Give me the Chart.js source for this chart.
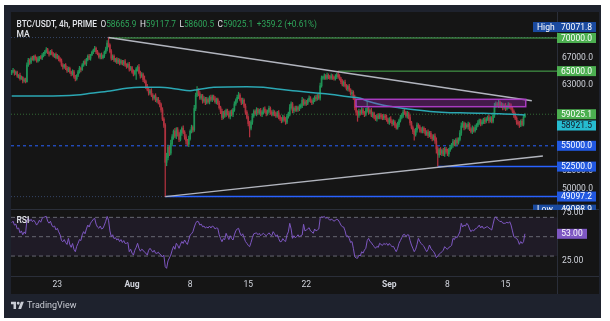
<!DOCTYPE html>
<html>
<head>
<meta charset="utf-8">
<script src="https://cdn.jsdelivr.net/npm/chart.js@4.4.1/dist/chart.umd.min.js"></script>
<style>
  html, body { margin: 0; padding: 0; background: #ffffff; }
  body { width: 610px; height: 321px; position: relative; overflow: hidden; font-family: Roboto, sans-serif; }
  #frame { position: absolute; left: 4px; top: 5px; width: 597px; height: 313px; background: #1e222d; }
  #panel { position: absolute; left: 11px; top: 12px; width: 588px; height: 282px; background: #151515; }
  .sep { position: absolute; background: #2a2e39; }
  canvas { position: absolute; }
  #main { left: 11px; top: 12px; }
  #rsi { left: 11px; top: 200px; }
  .t { position: absolute; font-size: 8.5px; line-height: 10px; white-space: nowrap; color: #e3e5ea; }
  #legend { position: absolute; left: 16.5px; top: 18.5px; display: flex; gap: 3.5px; font-size: 8.3px; line-height: 10px; white-space: nowrap; color: #e3e5ea; }
  .b { font-weight: 500; }
  .g { color: #2ea55a; }
  #brand { position: absolute; left: 11px; top: 300px; display: flex; align-items: center; gap: 3px; color: #c9ccd4; font-size: 9px; }
</style>
</head>
<body>
<div id="frame"></div>
<div id="panel"></div>
<div class="sep" style="left:11px;top:209px;width:588px;height:1px"></div>
<div class="sep" style="left:11px;top:276px;width:588px;height:1px"></div>
<div class="sep" style="left:557px;top:12px;width:1px;height:282px"></div>

<canvas id="main" width="588" height="198"></canvas>
<canvas id="rsi" width="588" height="94"></canvas>

<div id="legend">
  <span class="b">BTC/USDT, 4h, PRIME</span>
  <span>O<span class="g" id="vO"></span></span>
  <span>H<span class="g" id="vH"></span></span>
  <span>L<span class="g" id="vL"></span></span>
  <span>C<span class="g" id="vC"></span></span>
  <span class="g" id="vChg"></span>
</div>
<div class="t b" style="left:16.5px;top:28.5px">MA</div>
<div class="t b" style="left:16.5px;top:214.5px">RSI</div>

<div id="brand">
  <svg width="13" height="8" viewBox="0 0 36 22"><path d="M14 22H7V9H0V2h14v20zM28 22h-8l7.5-20h8L28 22zM20 2a4 4 0 1 1 0 8 4 4 0 0 1 0-8z" fill="#c9ccd4"/></svg>
  <span>TradingView</span>
</div>

<script>
// ── Datos (velas de 4h, precios en miles de USD) ─────────────
const firstOpen = 64.7;
const closes = [
  64.9, 65.1, 64.7, 64.8, 64.3, 64.4, 63.9, 64.1, 63.6, 63.8, 63.5, 65.9,
  66.6, 66.3, 66.9, 66.7, 67.2, 66.9, 66.5, 66.8, 67.1, 66.9, 67.3, 67.6,
  67.9, 68.2, 67.8, 67.5, 67.9, 67.6, 67.3, 67.5, 67.0, 67.2, 66.8, 66.5,
  65.9, 65.6, 65.9, 65.4, 65.1, 65.4, 64.9, 64.6, 64.9, 64.2, 63.9, 64.4,
  64.9, 65.4, 65.2, 65.9, 66.4, 66.1, 66.7, 67.2, 66.9, 67.4, 67.8, 68.1,
  68.4, 67.9, 67.6, 67.1, 67.4, 67.0, 67.3, 67.8, 68.3, 69.2, 68.9, 67.9,
  66.9, 67.2, 66.6, 66.8, 66.3, 66.6, 66.2, 66.5, 66.1, 66.4, 65.9, 65.7,
  66.0, 65.3, 65.5, 64.9, 64.6, 65.0, 65.3, 65.6, 64.8, 64.3, 64.5, 63.8,
  63.5, 62.8, 62.4, 61.9, 62.2, 61.6, 61.2, 61.5, 60.9, 61.1, 60.6, 60.3,
  59.6, 58.4, 57.6, 53.0, 53.6, 54.8, 54.1, 55.3, 56.1, 56.8, 56.2, 57.0,
  56.5, 55.8, 56.6, 57.2, 56.7, 56.1, 55.6, 55.2, 55.9, 56.8, 57.3, 57.0,
  59.8, 61.6, 62.3, 61.8, 61.2, 61.5, 60.8, 61.1, 60.6, 61.0, 60.7, 61.3,
  61.0, 61.4, 61.1, 60.7, 61.0, 60.5, 59.9, 59.4, 58.6, 59.2, 58.9, 59.5,
  59.1, 58.7, 59.3, 59.0, 59.6, 60.4, 60.9, 61.3, 61.6, 61.0, 60.6, 60.9,
  60.1, 59.3, 58.6, 57.8, 57.2, 58.0, 58.8, 59.4, 59.1, 59.6, 59.2, 59.5,
  59.0, 59.3, 59.7, 59.4, 59.1, 59.4, 59.8, 59.3, 59.0, 59.3, 59.1, 58.8,
  59.2, 58.7, 58.4, 58.2, 58.6, 58.3, 58.0, 58.7, 59.1, 59.9, 60.4, 59.5,
  59.8, 59.6, 59.9, 59.7, 60.0, 60.2, 60.9, 60.4, 60.7, 60.5, 60.9, 61.2,
  60.8, 60.6, 60.9, 61.3, 61.1, 61.5, 61.2, 62.9, 64.0, 64.1, 64.3, 64.0,
  64.4, 64.2, 64.0, 64.3, 64.1, 63.9, 64.2, 64.5, 64.2, 63.9, 63.5, 63.1,
  63.4, 62.9, 62.5, 62.8, 62.3, 61.8, 62.0, 61.2, 59.9, 59.3, 58.9, 59.4,
  59.2, 59.6, 59.2, 59.0, 59.5, 59.8, 59.3, 59.5, 58.9, 59.1, 58.6, 58.4,
  58.8, 58.6, 58.9, 58.7, 58.5, 58.8, 58.6, 58.3, 58.0, 58.4, 58.1, 57.8,
  58.0, 57.6, 57.3, 57.7, 58.2, 58.6, 58.9, 59.3, 59.2, 58.8, 59.1, 58.6,
  57.9, 57.3, 56.8, 56.4, 57.0, 57.6, 57.4, 57.0, 56.8, 57.2, 56.9, 56.5,
  56.7, 56.3, 56.6, 56.1, 55.9, 56.2, 55.6, 54.6, 53.9, 54.5, 54.1, 54.4,
  54.0, 54.6, 54.3, 54.0, 54.5, 54.8, 55.1, 55.5, 55.2, 55.7, 55.4, 55.8,
  56.6, 57.5, 57.8, 57.3, 57.6, 57.4, 57.7, 57.1, 56.8, 57.2, 56.9, 57.3,
  57.6, 57.9, 58.2, 57.8, 58.0, 58.3, 58.1, 58.4, 58.6, 58.2, 58.5, 58.1,
  58.9, 60.1, 60.4, 60.2, 60.6, 60.1, 60.3, 59.9, 60.2, 59.8, 60.0, 60.3,
  60.1, 59.8, 59.4, 58.9, 58.5, 58.0, 57.8, 57.6, 58.1, 57.7, 58.6659, 59.0251
];
// mechas en cientos de USD
const wickUp = [
  2, 3, 1, 2, 2, 1, 3, 2, 1, 2, 2, 3,
  3, 2, 2, 3, 1, 2, 2, 3, 1, 2, 3, 2,
  2, 3, 2, 1, 2, 3, 2, 1, 2, 3, 1, 2,
  3, 2, 1, 2, 3, 2, 2, 1, 3, 2, 2, 1,
  2, 3, 2, 2, 1, 3, 2, 2, 3, 1, 2, 2,
  3, 2, 2, 1, 2, 3, 1, 2, 3, 4, 8.718, 2,
  3, 2, 2, 1, 2, 3, 2, 2, 1, 2, 3, 2,
  2, 3, 2, 2, 3, 1, 2, 2, 4, 2, 3, 2,
  5, 2, 3, 2, 2, 3, 2, 1, 3, 2, 2, 3,
  2, 3, 2, 2, 5, 3, 2, 4, 3, 2, 4, 3,
  3, 2, 4, 2, 3, 2, 3, 2, 3, 2, 3, 2,
  4, 3, 5, 2, 3, 2, 2, 3, 2, 3, 2, 2,
  3, 2, 2, 3, 2, 2, 3, 2, 3, 2, 3, 2,
  2, 3, 2, 3, 2, 3, 2, 3, 4, 2, 2, 3,
  2, 3, 2, 2, 3, 2, 3, 2, 2, 3, 2, 2,
  3, 2, 2, 3, 2, 2, 3, 2, 2, 3, 2, 2,
  2, 3, 2, 2, 3, 2, 3, 3, 2, 4, 3, 2,
  2, 3, 2, 2, 3, 2, 4, 2, 3, 2, 2, 3,
  2, 2, 3, 2, 3, 2, 3, 4, 3, 2, 3, 2,
  3, 2, 2, 3, 2, 2, 3, 2, 5, 3, 2, 3,
  2, 3, 2, 2, 3, 2, 3, 2, 4, 3, 2, 3,
  2, 3, 2, 2, 3, 10, 2, 2, 3, 2, 2, 3,
  2, 3, 2, 2, 3, 2, 2, 3, 2, 2, 3, 2,
  3, 2, 2, 3, 2, 3, 2, 3, 4, 2, 3, 2,
  3, 2, 2, 3, 2, 3, 2, 2, 3, 2, 2, 3,
  2, 3, 2, 2, 3, 2, 3, 4, 3, 2, 3, 2,
  3, 2, 2, 3, 2, 3, 2, 3, 2, 2, 3, 2,
  3, 4, 3, 2, 3, 2, 3, 2, 2, 3, 2, 3,
  2, 3, 2, 2, 3, 2, 3, 2, 2, 3, 2, 2,
  3, 4, 3, 2, 3, 2, 3, 2, 2, 3, 2, 3,
  2, 3, 2, 2, 3, 2, 2, 3, 2, 3, 2, 0.926
];
const wickDn = [
  2, 1, 3, 2, 2, 3, 2, 1, 3, 2, 2, 1,
  2, 3, 2, 1, 2, 3, 2, 2, 3, 1, 2, 2,
  3, 2, 2, 3, 1, 2, 2, 3, 2, 2, 3, 2,
  2, 3, 2, 2, 3, 2, 2, 3, 2, 2, 3, 2,
  2, 2, 3, 1, 2, 2, 3, 2, 2, 3, 1, 2,
  2, 3, 2, 2, 3, 2, 2, 3, 2, 3, 3, 2,
  3, 2, 2, 3, 2, 2, 3, 2, 2, 3, 2, 3,
  2, 3, 2, 2, 3, 2, 12, 3, 2, 3, 2, 3,
  2, 3, 2, 3, 2, 2, 3, 2, 2, 3, 2, 3,
  3, 2, 3, 39.111, 4, 3, 3, 2, 3, 3, 2, 3,
  3, 3, 2, 3, 2, 3, 4, 2, 3, 2, 2, 3,
  2, 3, 2, 3, 2, 2, 3, 2, 3, 2, 2, 3,
  2, 3, 2, 2, 3, 2, 2, 3, 3, 2, 3, 2,
  2, 2, 3, 2, 3, 2, 2, 3, 2, 2, 3, 2,
  2, 3, 2, 3, 11, 2, 3, 2, 2, 3, 2, 2,
  2, 3, 2, 2, 3, 2, 2, 3, 2, 2, 3, 2,
  2, 3, 2, 3, 2, 2, 3, 2, 2, 3, 2, 3,
  3, 2, 2, 3, 2, 2, 3, 2, 2, 3, 2, 2,
  2, 3, 2, 2, 3, 2, 2, 3, 2, 2, 3, 2,
  2, 3, 2, 2, 3, 2, 2, 3, 2, 2, 3, 2,
  3, 2, 2, 3, 2, 2, 3, 2, 3, 4, 8, 3,
  3, 2, 2, 3, 2, 2, 3, 2, 2, 3, 2, 2,
  3, 2, 2, 3, 2, 2, 3, 2, 2, 3, 2, 3,
  2, 3, 2, 2, 3, 2, 2, 3, 2, 2, 3, 2,
  3, 2, 3, 7, 2, 3, 2, 3, 2, 2, 3, 2,
  2, 3, 2, 2, 3, 2, 3, 5, 13.5, 3, 2, 3,
  2, 3, 2, 2, 3, 2, 2, 3, 2, 2, 3, 2,
  2, 3, 2, 3, 2, 2, 3, 2, 2, 3, 2, 2,
  3, 2, 2, 3, 2, 2, 3, 2, 2, 3, 2, 2,
  2, 3, 2, 2, 3, 2, 2, 3, 2, 3, 2, 2,
  3, 2, 2, 3, 2, 3, 2, 3, 2, 2, 2, 0.654
];
const rsi = [
  64.5, 66, 62, 63, 58, 59, 54, 56, 52, 55, 53, 67,
  69, 66, 68, 65.5, 67, 65, 62, 64, 67, 65, 69, 70,
  70.5, 71, 66, 64, 66, 62, 60, 61, 57, 58.7, 55, 52,
  46, 44.8, 47, 44, 42, 48.3, 42, 39, 43, 37, 34.5, 40,
  43.2, 47, 46, 52, 55.2, 53, 58, 62, 60, 64, 66, 68,
  69, 63, 60, 58.7, 61, 58, 58.7, 62, 66, 71, 67, 56,
  50, 52, 48, 49, 46.6, 48, 45, 47, 44, 46, 43, 43.2,
  44, 34.5, 37, 33, 31, 36, 39, 43.2, 38, 35, 37, 36,
  34, 33, 31, 36, 38, 36, 34, 36, 33, 32.8, 34, 32,
  31, 29, 31, 19, 17.3, 25, 28, 31, 36, 40, 37, 43.2,
  41, 38, 42, 45, 43, 46.6, 44, 42, 47, 51.8, 53, 55.2,
  60, 64, 66, 65.5, 62, 63, 60.3, 61, 59, 60, 59, 61,
  59, 61, 60.3, 58, 59, 58.7, 52, 48, 44.8, 48, 47, 53.5,
  50, 47, 51, 48, 46.6, 52, 56, 58, 58.7, 54, 51, 53,
  49, 45, 43.2, 41, 39.7, 44, 49, 53, 53.5, 54, 52, 53.5,
  51, 52.5, 53.5, 52, 51, 52.5, 54, 52, 51, 55.2, 53, 50,
  52, 48, 44.8, 45, 48, 46, 45, 51.8, 55, 63.8, 58, 48.3,
  51, 49, 50, 52, 50, 51, 51.8, 62.8, 56, 56.9, 58, 59.3,
  56, 55, 53.5, 58, 56, 56.9, 58, 69, 70.7, 70, 71, 69,
  70, 68.5, 67, 68, 67.3, 66, 67, 68, 67.3, 65, 62, 60.3,
  60, 56, 50, 51, 48.3, 44, 45, 38, 29.3, 28, 27.7, 31,
  30, 34.5, 33, 36.2, 38, 46, 48.3, 45, 44, 41.4, 40, 38,
  40, 39, 43.2, 42, 41, 43, 42, 43.2, 41, 43, 41, 39.7,
  40, 37, 34.5, 38, 43.2, 46, 49, 52, 52.5, 50, 52, 51.8,
  46, 41.4, 38, 34.5, 37, 42, 48.3, 45, 43, 41.4, 40, 37,
  34.5, 37, 41.4, 38, 36, 34.5, 32, 28.3, 30, 32, 33, 34.5,
  36, 39.7, 38, 37, 39, 39.7, 41, 48.3, 47, 50, 49, 51.8,
  55, 63.8, 60, 62, 61, 63.8, 62, 58, 55.2, 57, 56, 58,
  58.7, 60, 62, 59, 61, 58.7, 59, 60, 60.3, 59, 58, 56.9,
  63, 69, 70.7, 68, 67, 65.5, 66, 64, 63.8, 64, 65, 64,
  65.5, 62, 56, 50, 49, 48.3, 46, 42.1, 45, 43, 44.8, 53
];
// media móvil (índice de vela, miles de USD)
const maIdx = [0, 23, 47, 57, 71, 83, 93, 107, 119, 129, 134, 146, 170, 182, 194, 206, 218, 230, 242, 252, 257, 268, 280, 293, 305, 317, 329, 341, 353, 371];
const maVal = [61.48, 61.48, 61.62, 61.85, 62.17, 62.55, 62.69, 62.69, 62.45, 62.22, 62.35, 62.69, 62.77, 62.69, 62.41, 62.17, 61.94, 61.72, 61.42, 61.17, 60.8, 60.26, 59.9, 59.58, 59.35, 59.23, 59.2, 59.15, 59.1, 58.9215];

// ejes
const tickIdx    = [33, 87, 129, 171, 213, 273, 315, 357];
const tickLabels = ['23', 'Aug', '8', '15', '22', 'Sep', '8', '15'];
const priceTicks = [67000, 63000, 59000, 55000, 52000, 50000];
const rsiTicks   = [75, 25];

// niveles dibujados
const HIGH = 70071.8, LOW = 49088.9;
const greenLevels = [70000, 65000];
const greenFrom   = [70, 236];
const blueLevels  = [52500, 49097.2];
const blueFrom    = [308, 111];
const dashedLevel = 55000;
const upperTrend = [[70, HIGH], [376, 60840]];
const lowerTrend = [[111, LOW], [384, 53760]];
const zone = { from: 248.9, to: 371.6, top: 61030, bottom: 60030 };

// ── Construcción ─────────────
const K = 1000;
const N = closes.length;
const X_MIN = -0.5, X_MAX = 394.2;
const opens = closes.map((c, i) => i === 0 ? firstOpen : closes[i - 1]);
const highs = closes.map((c, i) => Math.max(opens[i], c) + wickUp[i] / 10);
const lows  = closes.map((c, i) => Math.min(opens[i], c) - wickDn[i] / 10);
const UP = '#1f9256', DOWN = '#b0323f';
const candleColors = closes.map((c, i) => c >= opens[i] ? UP : DOWN);
const lastClose = closes[N - 1] * K;
const lastMA = maVal[maVal.length - 1] * K;

document.getElementById('vO').textContent = (opens[N - 1] * K).toFixed(1);
document.getElementById('vH').textContent = (highs[N - 1] * K).toFixed(1);
document.getElementById('vL').textContent = (lows[N - 1] * K).toFixed(1);
document.getElementById('vC').textContent = lastClose.toFixed(1);
const chg = lastClose - opens[N - 1] * K;
document.getElementById('vChg').textContent = '+' + chg.toFixed(1) + ' (+' + (chg / (opens[N - 1] * K) * 100).toFixed(2) + '%)';

const FONT = 'Roboto';
const TXT = '#d1d4dc';

function hLine(value, from, color, width, dash, order) {
    return {
        type: 'line',
        data: [{ x: from, y: value }, { x: X_MAX, y: value }],
        borderColor: color, borderWidth: width, borderDash: dash || [],
        pointRadius: 0, fill: false, order: order
    };
}
function segment(pts, color, width, order) {
    return {
        type: 'line',
        data: pts.map(p => ({ x: p[0], y: p[1] })),
        borderColor: color, borderWidth: width, pointRadius: 0, fill: false, order: order
    };
}

// caja morada
const zonePlugin = {
    id: 'zone',
    afterDatasetsDraw(chart) {
        const { ctx, scales: { x, y } } = chart;
        const x1 = x.getPixelForValue(zone.from), x2 = x.getPixelForValue(zone.to);
        const y1 = y.getPixelForValue(zone.top), y2 = y.getPixelForValue(zone.bottom);
        ctx.save();
        ctx.fillStyle = 'rgba(156, 39, 176, 0.35)';
        ctx.fillRect(x1, y1, x2 - x1, y2 - y1);
        ctx.strokeStyle = '#a83bc0';
        ctx.lineWidth = 1.5;
        ctx.strokeRect(x1, y1, x2 - x1, y2 - y1);
        ctx.restore();
    }
};

function drawTag(chart, t) {
    const { ctx, chartArea } = chart;
    const y = chart.scales.y.getPixelForValue(t.v) + (t.dy || 0);
    const left = chartArea.right, w = 39, h = 10;
    ctx.save();
    ctx.font = '8.5px ' + FONT;
    ctx.textBaseline = 'middle';
    if (t.tag) {
        ctx.fillStyle = t.bg;
        ctx.fillRect(left - 24, y - h / 2, w + 24, h);
        ctx.fillStyle = '#ffffff';
        ctx.textAlign = 'left';
        ctx.fillText(t.tag, left - 20, y + 0.5);
    } else {
        ctx.fillStyle = t.bg;
        ctx.fillRect(left, y - h / 2, w, h);
    }
    ctx.fillStyle = t.fg || '#ffffff';
    ctx.textAlign = 'center';
    ctx.fillText(t.text || t.v.toFixed(1), left + w / 2, y + 0.5);
    ctx.restore();
}

const priceTags = [
    { v: HIGH, tag: 'High', bg: '#1a4aa0', dy: -10.5 },
    { v: greenLevels[0], bg: '#4caf50' },
    { v: greenLevels[1], bg: '#4caf50' },
    { v: lastClose, bg: '#4caf50' },
    { v: lastMA, bg: '#26bcd0', fg: '#131722', dy: 10.5 },
    { v: dashedLevel, bg: '#2158e0' },
    { v: blueLevels[0], bg: '#2158e0' },
    { v: blueLevels[1], bg: '#2158e0' },
    { v: LOW, tag: 'Low', bg: '#1a4aa0', dy: 13 }
];
const tagPlugin = {
    id: 'tags',
    afterDraw(chart) { priceTags.forEach(t => drawTag(chart, t)); }
};

new Chart(document.getElementById('main'), {
    type: 'bar',
    data: {
        datasets: [
            segment(upperTrend, '#b2b5be', 1.5, 1),
            segment(lowerTrend, '#b2b5be', 1.5, 1),
            {
                type: 'line',
                data: maIdx.map((v, i) => ({ x: v, y: maVal[i] * K })),
                borderColor: '#2ba7b3', borderWidth: 1.5, pointRadius: 0,
                cubicInterpolationMode: 'monotone', fill: false, order: 2
            },
            {
                data: closes.map((c, i) => ({ x: i, y: [opens[i] * K, c * K] })),
                backgroundColor: candleColors, barThickness: 1, minBarLength: 1,
                grouped: false, borderWidth: 0, order: 3
            },
            {
                data: closes.map((c, i) => ({ x: i, y: [lows[i] * K, highs[i] * K] })),
                backgroundColor: candleColors, barThickness: 0.6,
                grouped: false, borderWidth: 0, order: 4
            },
            hLine(greenLevels[0], greenFrom[0], '#4caf50', 1, null, 5),
            hLine(greenLevels[1], greenFrom[1], '#4caf50', 1, null, 5),
            hLine(blueLevels[0], blueFrom[0], '#2962ff', 1.5, null, 5),
            hLine(blueLevels[1], blueFrom[1], '#2962ff', 1.5, null, 5),
            hLine(dashedLevel, X_MIN, '#2962ff', 1, [3, 3], 5),
            hLine(lastClose, X_MIN, 'rgba(76,175,80,0.55)', 1, [1, 2], 6),
            hLine(HIGH, X_MIN, 'rgba(80,110,170,0.55)', 1, [1, 2], 6),
            hLine(LOW, X_MIN, 'rgba(80,110,170,0.55)', 1, [1, 2], 6)
        ]
    },
    options: {
        responsive: false,
        animation: false,
        events: [],
        layout: { padding: 0 },
        plugins: { legend: { display: false }, tooltip: { enabled: false } },
        scales: {
            x: { type: 'linear', display: false, offset: false, min: X_MIN, max: X_MAX },
            y: {
                type: 'logarithmic', position: 'right', min: 47642, max: 74192,
                grid: { display: false, drawTicks: false }, border: { display: false },
                afterBuildTicks: s => { s.ticks = priceTicks.map(v => ({ value: v })); },
                afterFit: s => { s.width = 42; s.paddingTop = 0; s.paddingBottom = 0; },
                ticks: {
                    color: TXT, padding: 5, font: { family: FONT, size: 8.5 },
                    callback: v => Number(v).toFixed(1)
                }
            }
        }
    },
    plugins: [zonePlugin, tagPlugin]
});

// ── RSI ─────────────
const bandPlugin = {
    id: 'band',
    beforeDatasetsDraw(chart) {
        const { ctx, chartArea, scales: { y } } = chart;
        const y1 = y.getPixelForValue(70), y2 = y.getPixelForValue(30);
        ctx.save();
        ctx.fillStyle = 'rgba(126, 87, 194, 0.1)';
        ctx.fillRect(chartArea.left, y1, chartArea.right - chartArea.left, y2 - y1);
        ctx.restore();
    },
    afterDraw(chart) {
        const { ctx, chartArea, scales: { y } } = chart;
        const v = rsi[rsi.length - 1];
        const py = y.getPixelForValue(v);
        ctx.save();
        ctx.fillStyle = '#7e57c2';
        ctx.fillRect(chartArea.right, py - 5, 30, 10);
        ctx.fillStyle = '#ffffff';
        ctx.font = '8.5px ' + FONT;
        ctx.textAlign = 'center';
        ctx.textBaseline = 'middle';
        ctx.fillText(v.toFixed(2), chartArea.right + 15, py + 0.5);
        ctx.restore();
    }
};

new Chart(document.getElementById('rsi'), {
    type: 'line',
    data: {
        datasets: [
            {
                data: rsi.map((v, i) => ({ x: i, y: v })),
                borderColor: '#7e57c2', borderWidth: 1, pointRadius: 0, fill: false, order: 1
            },
            hLine(70, X_MIN, 'rgba(120,123,134,0.8)', 1, [4, 3], 2),
            hLine(50, X_MIN, 'rgba(120,123,134,0.8)', 1, [4, 3], 2),
            hLine(30, X_MIN, 'rgba(120,123,134,0.8)', 1, [4, 3], 2)
        ]
    },
    options: {
        responsive: false,
        animation: false,
        events: [],
        layout: { padding: { top: 10 } },
        plugins: { legend: { display: false }, tooltip: { enabled: false } },
        scales: {
            x: {
                type: 'linear', offset: false, min: X_MIN, max: X_MAX,
                grid: { display: false, drawTicks: false }, border: { display: false },
                afterBuildTicks: s => { s.ticks = tickIdx.map(v => ({ value: v })); },
                afterFit: s => { s.height = 18; s.paddingLeft = 0; s.paddingRight = 0; },
                ticks: {
                    autoSkip: false, maxRotation: 0, padding: 4, color: TXT,
                    font: ctx => ({ family: FONT, size: 8.5, weight: /[A-Za-z]/.test(tickLabels[ctx.index] || '') ? 'bold' : 'normal' }),
                    callback: (v, i) => tickLabels[i]
                }
            },
            y: {
                position: 'right', min: 9.38, max: 77.6,
                grid: { display: false, drawTicks: false }, border: { display: false },
                afterBuildTicks: s => { s.ticks = rsiTicks.map(v => ({ value: v })); },
                afterFit: s => { s.width = 42; s.paddingTop = 0; s.paddingBottom = 0; },
                ticks: {
                    color: TXT, padding: 5, font: { family: FONT, size: 8.5 },
                    callback: v => Number(v).toFixed(2)
                }
            }
        }
    },
    plugins: [bandPlugin]
});
</script>
</body>
</html>
